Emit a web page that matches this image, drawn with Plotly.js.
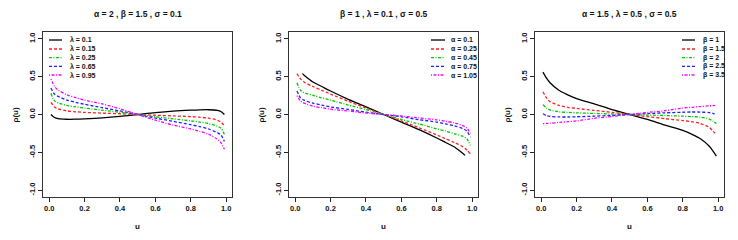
<!DOCTYPE html>
<html><head><meta charset="utf-8">
<script src="https://cdn.plot.ly/plotly-3.0.1.min.js"></script>
<style>html,body{margin:0;padding:0;background:#fff}#chart{width:738px;height:240px}</style>
</head><body><div id="chart"></div>
<script>
// ---- data ----
var U = [0.01,0.03,0.05,0.1,0.15,0.2,0.3,0.4,0.5,0.6,0.7,0.8,0.85,0.9,0.95,0.97,0.99];
var U_A01 = [0.04,0.05,0.1,0.15,0.2,0.3,0.4,0.5,0.6,0.7,0.8,0.85,0.9,0.95,0.96];

// panel 1: alpha=2, beta=1.5, sigma=0.1
var lam01  = [0.00,-0.04,-0.055,-0.063,-0.062,-0.057,-0.044,-0.025,0.00,0.025,0.044,0.057,0.062,0.063,0.055,0.04,0.00];
var lam015 = [0.16,0.10,0.075,0.048,0.036,0.028,0.018,0.01,0,-0.01,-0.018,-0.028,-0.036,-0.048,-0.075,-0.10,-0.15];
var lam025 = [0.28,0.18,0.155,0.12,0.10,0.085,0.057,0.03,0,-0.03,-0.057,-0.085,-0.10,-0.12,-0.155,-0.18,-0.26];
var lam065 = [0.35,0.27,0.24,0.19,0.16,0.135,0.09,0.047,0,-0.047,-0.09,-0.135,-0.16,-0.19,-0.24,-0.27,-0.355];
var lam095 = [0.47,0.37,0.325,0.26,0.222,0.19,0.14,0.075,0,-0.075,-0.14,-0.19,-0.222,-0.26,-0.325,-0.37,-0.46];

// panel 2: beta=1, lambda=0.1, sigma=0.5
var a01  = [0.54,0.52,0.43,0.37,0.31,0.20,0.10,0,-0.10,-0.20,-0.31,-0.37,-0.43,-0.52,-0.54];
var a025 = [0.54,0.47,0.43,0.37,0.32,0.27,0.175,0.085,0,-0.085,-0.175,-0.27,-0.32,-0.37,-0.43,-0.47,-0.52];
var a045 = [0.42,0.32,0.29,0.255,0.22,0.19,0.125,0.065,0,-0.065,-0.125,-0.19,-0.22,-0.255,-0.29,-0.32,-0.41];
var a075 = [0.31,0.22,0.19,0.15,0.125,0.10,0.068,0.03,0,-0.03,-0.068,-0.10,-0.125,-0.15,-0.19,-0.22,-0.30];
var a105 = [0.25,0.18,0.15,0.11,0.09,0.07,0.045,0.02,0,-0.02,-0.045,-0.07,-0.09,-0.11,-0.15,-0.18,-0.25];

// panel 3: alpha=1.5, lambda=0.5, sigma=0.5
var b1  = [0.56,0.48,0.42,0.32,0.26,0.21,0.14,0.065,0,-0.065,-0.14,-0.21,-0.26,-0.32,-0.42,-0.48,-0.55];
var b15 = [0.30,0.22,0.17,0.12,0.095,0.08,0.055,0.028,0,-0.028,-0.055,-0.08,-0.095,-0.12,-0.17,-0.22,-0.26];
var b2  = [0.13,0.085,0.06,0.035,0.028,0.022,0.014,0.007,0,-0.007,-0.014,-0.022,-0.028,-0.035,-0.06,-0.085,-0.12];
var b25 = [0.01,-0.015,-0.025,-0.032,-0.033,-0.03,-0.022,-0.012,0,0.012,0.022,0.03,0.033,0.032,0.025,0.015,-0.01];
var b35 = [-0.12,-0.118,-0.115,-0.105,-0.095,-0.085,-0.05,-0.027,0,0.027,0.05,0.085,0.095,0.105,0.115,0.118,0.12];

var panelTitles = ["\u03b1 = 2 , \u03b2 = 1.5 , \u03c3 = 0.1", "\u03b2 = 1 , \u03bb = 0.1 , \u03c3 = 0.5", "\u03b1 = 1.5 , \u03bb = 0.5 , \u03c3 = 0.5"];
var legendLabels = [
  ["\u03bb = 0.1","\u03bb = 0.15","\u03bb = 0.25","\u03bb = 0.65","\u03bb = 0.95"],
  ["\u03b1 = 0.1","\u03b1 = 0.25","\u03b1 = 0.45","\u03b1 = 0.75","\u03b1 = 1.05"],
  ["\u03b2 = 1","\u03b2 = 1.5","\u03b2 = 2","\u03b2 = 2.5","\u03b2 = 3.5"]
];
var xTicks = [0,0.2,0.4,0.6,0.8,1.0];
var xTickText = ["0.0","0.2","0.4","0.6","0.8","1.0"];
var yTicks = [-1,-0.5,0,0.5,1];
var yTickText = ["-1.0","-0.5","0.0","0.5","1.0"];

// ---- styling ----
var colors = ["#000000","#ff2020","#00c800","#2020ff","#ff00ff"];
var dashes = ["solid","3px,2px","3px,1.5px,1px,1.5px","3px,2px","1px,1.5px,3px,1.5px"];
var W = 738, H = 240;
var boxes = [[43,232],[289,478],[535,724]];
var TOP = 32, BOT = 197;
function px(x){return x/W;} function py(y){return 1-y/H;}

var series = [
  {xs:[U,U,U,U,U], ys:[lam01,lam015,lam025,lam065,lam095]},
  {xs:[U_A01,U,U,U,U], ys:[a01,a025,a045,a075,a105]},
  {xs:[U,U,U,U,U], ys:[b1,b15,b2,b25,b35]}
];
var legendPos = [
  {l0:49, l1:62, t:68},
  {l0:431, l1:445, t:449},
  {l0:682, l1:695, t:701}
];
var legendRows = [40,49,57.7,66.3,75];

var FONT = "Liberation Sans, Arial, sans-serif";
var data = [], annotations = [], shapes = [];
var layout = {width:W, height:H, margin:{l:0,r:0,t:0,b:0}, showlegend:false,
  paper_bgcolor:"#fff", plot_bgcolor:"#fff", font:{family:FONT, color:"#111"}};

for (var p=0;p<3;p++){
  var xa = p===0?"x":"x"+(p+1), ya = p===0?"y":"y"+(p+1);
  var xk = p===0?"xaxis":"xaxis"+(p+1), yk = p===0?"yaxis":"yaxis"+(p+1);
  for (var s=0;s<5;s++){
    data.push({type:"scatter", mode:"lines", x:series[p].xs[s], y:series[p].ys[s],
      xaxis:xa, yaxis:ya, name:legendLabels[p][s],
      line:{color:colors[s], width:1.3, dash:dashes[s], shape:"spline", smoothing:0.8}});
  }
  layout[xk] = {domain:[px(boxes[p][0]),px(boxes[p][1])], anchor:ya, range:[-0.035,1.033],
    tickvals:xTicks, ticktext:xTickText, ticks:"outside", ticklen:4, tickwidth:1, tickcolor:"#222",
    showline:true, mirror:true, linecolor:"#333", linewidth:1, showgrid:false, zeroline:false,
    tickfont:{size:7.5, family:FONT, weight:"bold", color:"#111"}, fixedrange:true};
  layout[yk] = {domain:[py(BOT),py(TOP)], anchor:xa, range:[-1.09,1.09],
    tickvals:yTicks, ticktext:yTickText, ticks:"outside", ticklen:4, tickwidth:1, tickcolor:"#222",
    tickangle:-90, showline:true, mirror:true, linecolor:"#333", linewidth:1, showgrid:false, zeroline:false,
    tickfont:{size:7.5, family:FONT, weight:"bold", color:"#111"}, fixedrange:true};
  var cx = (boxes[p][0]+boxes[p][1])/2;
  annotations.push({text:panelTitles[p], xref:"paper", yref:"paper", x:px(cx), y:py(14),
    xanchor:"center", yanchor:"middle", showarrow:false, font:{size:8.5, family:FONT, weight:"bold", color:"#111"}});
  annotations.push({text:"u", xref:"paper", yref:"paper", x:px(cx), y:py(226),
    xanchor:"center", yanchor:"middle", showarrow:false, font:{size:8, family:FONT, weight:"bold", color:"#111"}});
  annotations.push({text:"\u03c1(u)", xref:"paper", yref:"paper", x:px(boxes[p][0]-28), y:py((TOP+BOT)/2),
    xanchor:"center", yanchor:"middle", textangle:-90, showarrow:false, font:{size:8, family:FONT, weight:"bold", color:"#111"}});
  var lp = legendPos[p];
  for (var r=0;r<5;r++){
    shapes.push({type:"line", xref:"paper", yref:"paper", x0:px(lp.l0), x1:px(lp.l1), y0:py(legendRows[r]), y1:py(legendRows[r]),
      line:{color:colors[r], width:1.3, dash:dashes[r]}});
    annotations.push({text:legendLabels[p][r], xref:"paper", yref:"paper", x:px(lp.t), y:py(legendRows[r]),
      xanchor:"left", yanchor:"middle", showarrow:false, font:{size:7, family:FONT, weight:"bold", color:"#111"}});
  }
}
layout.annotations = annotations;
layout.shapes = shapes;
Plotly.newPlot("chart", data, layout, {staticPlot:true, displayModeBar:false});
</script></body></html>
